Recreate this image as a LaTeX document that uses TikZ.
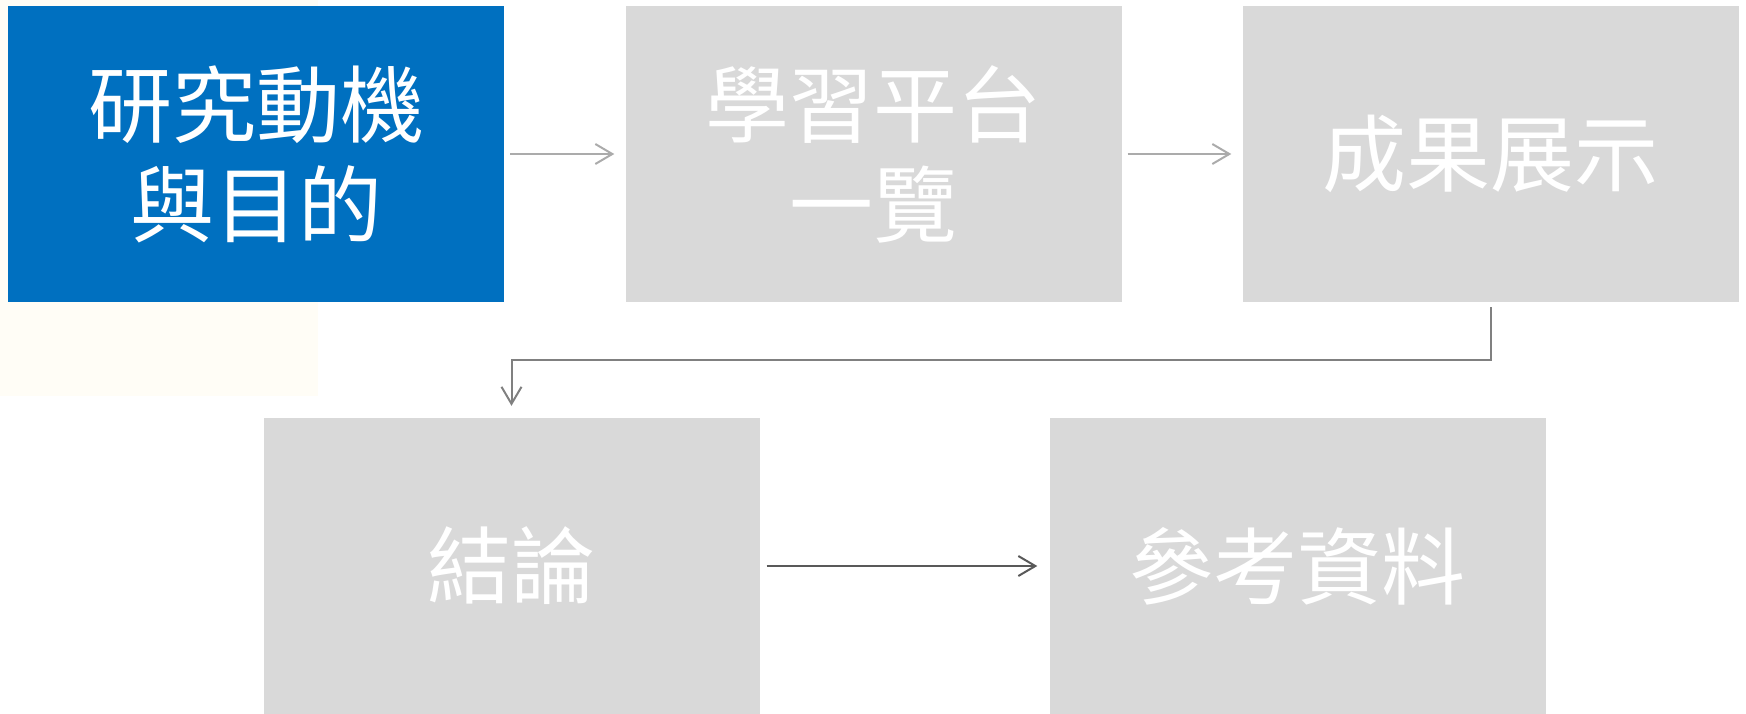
\documentclass[tikz,border=0pt]{standalone}
\usepackage{fontspec}
\newfontfamily\cjk{Noto Sans CJK TC}
\usetikzlibrary{arrows.meta}
\definecolor{boxblue}{HTML}{0070C0}
\definecolor{boxgrey}{HTML}{D9D9D9}
\definecolor{lightarrow}{HTML}{ABABAB}
\definecolor{midarrow}{HTML}{808080}
\definecolor{darkarrow}{HTML}{595959}
\definecolor{cream}{HTML}{FFFDF6}
\tikzset{
  stagebox/.style={rectangle, minimum width=496pt, minimum height=296pt, inner sep=0pt,
    text=white, align=center, font=\cjk\fontsize{84}{100}\selectfont},
  flowarrow/.style={line width=2pt, -{Straight Barb[length=17pt,width=20pt,line width=2pt]}},
}
\begin{document}
\begin{tikzpicture}[x=1pt,y=-1pt]
\useasboundingbox (0,0) rectangle (1746,713);
\fill[cream] (0,0) rectangle (318,396);
\node[stagebox, fill=boxblue] (b1) at (256,154) {研究動機\\與目的};
\node[stagebox, fill=boxgrey] (b2) at (873.5,154) {學習平台\\一覽};
\node[stagebox, fill=boxgrey] (b3) at (1490.5,154) {成果展示};
\node[stagebox, fill=boxgrey] (b4) at (511.5,566) {結論};
\node[stagebox, fill=boxgrey] (b5) at (1297.5,566) {參考資料};
\draw[flowarrow, lightarrow, shorten <=6pt, shorten >=11pt] (b1.east) -- (b2.west);
\draw[flowarrow, lightarrow, shorten <=6pt, shorten >=11pt] (b2.east) -- (b3.west);
\coordinate (bend) at (1490.5,360);
\draw[flowarrow, midarrow, shorten <=5pt, shorten >=12pt] (b3.south) -- (bend) -| (b4.north);
\draw[flowarrow, darkarrow, shorten <=7pt, shorten >=12pt] (b4.east) -- (b5.west);
\end{tikzpicture}
\end{document}
